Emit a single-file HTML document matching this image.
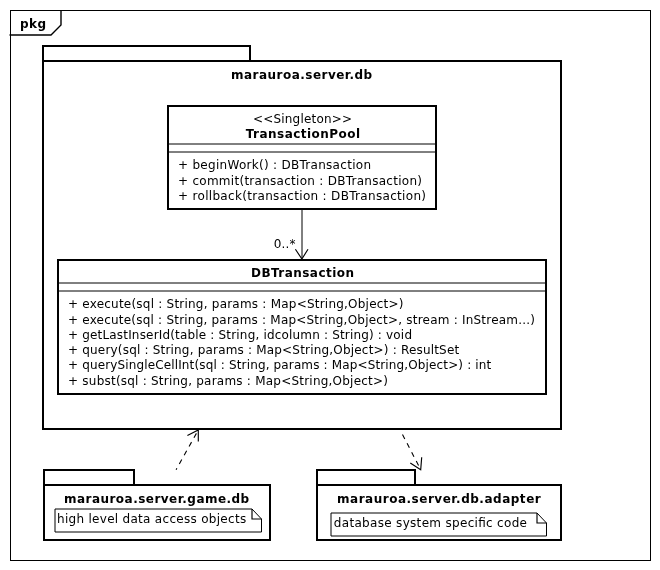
<!DOCTYPE html>
<html lang="en">
<head>
<meta charset="utf-8">
<title>pkg marauroa.server.db</title>
<style>
html,body{margin:0;padding:0;background:#fff;}
body{width:660px;height:570px;overflow:hidden;}
svg{display:block;will-change:transform;}
text{font-family:"DejaVu Sans","Liberation Sans",sans-serif;font-size:12px;fill:#000;}
.b{font-weight:bold;}
.box{fill:#fff;stroke:#000;stroke-width:2;shape-rendering:crispEdges;}
.sep{stroke:#000;stroke-width:1;}
.note{fill:#fff;stroke:#000;stroke-width:1;}
.thin{fill:none;stroke:#000;stroke-width:1.15;}
</style>
</head>
<body>
<svg width="660" height="570" viewBox="0 0 660 570">
<rect x="0" y="0" width="660" height="570" fill="#fff"/>
<!-- outer frame -->
<rect x="10.5" y="10.5" width="640" height="549.5" fill="none" stroke="#000" stroke-width="1" shape-rendering="crispEdges"/>
<polyline points="9.5,35 51,35 61,25 61,10.5" fill="none" stroke="#000" stroke-width="1.4"/>
<text class="b" x="20.00" y="28" textLength="26.00" lengthAdjust="spacing">pkg</text>
<!-- main package -->
<rect class="box" x="43" y="46" width="207" height="15"/>
<rect class="box" x="43" y="61" width="518" height="368"/>
<text class="b" x="231.00" y="79" textLength="141.20" lengthAdjust="spacing">marauroa.server.db</text>
<!-- TransactionPool -->
<rect class="box" x="168" y="106" width="268" height="103"/>
<line class="sep" x1="169" y1="144" x2="435" y2="144"/>
<line class="sep" x1="169" y1="152" x2="435" y2="152"/>
<text x="253.00" y="123" textLength="99.00" lengthAdjust="spacing">&lt;&lt;Singleton&gt;&gt;</text>
<text class="b" x="245.80" y="138" textLength="114.20" lengthAdjust="spacing">TransactionPool</text>
<text x="178.00" y="169" textLength="193.00" lengthAdjust="spacing">+ beginWork() : DBTransaction</text>
<text x="178.00" y="185" textLength="244.00" lengthAdjust="spacing">+ commit(transaction : DBTransaction)</text>
<text x="178.00" y="200" textLength="248.00" lengthAdjust="spacing">+ rollback(transaction : DBTransaction)</text>
<!-- association arrow -->
<line x1="302" y1="210" x2="302" y2="258" stroke="#000" stroke-width="1"/>
<polyline class="thin" points="295.4,249.2 301.9,259 308,249.2"/>
<text x="273.80" y="248" textLength="21.60" lengthAdjust="spacing">0..*</text>
<!-- DBTransaction -->
<rect class="box" x="58" y="260" width="488" height="134"/>
<line class="sep" x1="59" y1="283" x2="545" y2="283"/>
<line class="sep" x1="59" y1="291" x2="545" y2="291"/>
<text class="b" x="251.00" y="277" textLength="103.00" lengthAdjust="spacing">DBTransaction</text>
<text x="68.00" y="308" textLength="335.50" lengthAdjust="spacing">+ execute(sql : String, params : Map&lt;String,Object&gt;)</text>
<text x="68.00" y="324" textLength="467.00" lengthAdjust="spacing">+ execute(sql : String, params : Map&lt;String,Object&gt;, stream : InStream...)</text>
<text x="68.00" y="339" textLength="344.00" lengthAdjust="spacing">+ getLastInserId(table : String, idcolumn : String) : void</text>
<text x="68.00" y="354" textLength="391.20" lengthAdjust="spacing">+ query(sql : String, params : Map&lt;String,Object&gt;) : ResultSet</text>
<text x="68.00" y="369" textLength="423.20" lengthAdjust="spacing">+ querySingleCellInt(sql : String, params : Map&lt;String,Object&gt;) : int</text>
<text x="68.00" y="385" textLength="320.00" lengthAdjust="spacing">+ subst(sql : String, params : Map&lt;String,Object&gt;)</text>
<!-- dashed dependency arrows -->
<line x1="176.1" y1="469.7" x2="198.3" y2="430" stroke="#000" stroke-width="1.1" stroke-dasharray="5 5" stroke-dashoffset="3.4"/>
<polyline class="thin" points="187.4,435.4 198.3,430 198.3,441.4"/>
<line x1="400.2" y1="430" x2="420.7" y2="469.7" stroke="#000" stroke-width="1.1" stroke-dasharray="5 5" stroke-dashoffset="5"/>
<polyline class="thin" points="410.3,463.1 420.7,469.7 421.7,457.2"/>
<!-- game.db package -->
<rect class="box" x="44" y="470" width="90" height="15"/>
<rect class="box" x="44" y="485" width="226" height="55"/>
<text class="b" x="64.00" y="503" textLength="185.20" lengthAdjust="spacing">marauroa.server.game.db</text>
<path class="note" d="M55,509 H252 L261.5,519 V532 H55 Z"/>
<path class="thin" d="M252,509 V519 H261.5"/>
<text x="57.00" y="523" textLength="189.20" lengthAdjust="spacing">high level data access objects</text>
<!-- adapter package -->
<rect class="box" x="317" y="470" width="98" height="15"/>
<rect class="box" x="317" y="485" width="244" height="55"/>
<text class="b" x="337.00" y="503" textLength="203.70" lengthAdjust="spacing">marauroa.server.db.adapter</text>
<path class="note" d="M331,513 H537 L546.5,523 V536 H331 Z"/>
<path class="thin" d="M537,513 V523 H546.5"/>
<text x="333.80" y="527" textLength="193.20" lengthAdjust="spacing">database system specific code</text>
</svg>
</body>
</html>
